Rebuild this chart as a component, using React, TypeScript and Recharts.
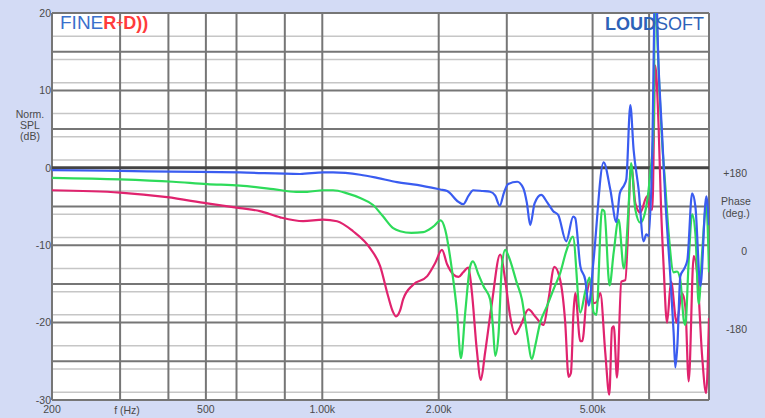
import { LineChart, Line, XAxis, YAxis, CartesianGrid } from 'recharts';

// frequency response, normalised SPL (dB) vs frequency (Hz)
const blueHz = [200, 300, 410, 613, 876, 1005, 1066, 1253, 1386, 1561, 1759, 2018, 2104, 2250, 2314, 2390, 2456, 2600, 2717, 2800, 2876, 2950, 3025, 3192, 3308, 3380, 3449, 3540, 3682, 3820, 3955, 4075, 4273, 4455, 4509, 4647, 4787, 4888, 5021, 5339, 5556, 5758, 5880, 6039, 6112, 6259, 6384, 6576, 6774, 6884, 6979, 7122, 7270, 7408, 7560, 7710, 7943, 8101, 8183, 8282, 8431, 8634, 8793, 9043, 9222, 9501, 9840, 10000];
const blueDb = [-0.3, -0.4, -0.5, -0.6, -0.8, -0.6, -0.6, -0.9, -1.3, -1.85, -2.2, -2.8, -3.0, -4.4, -4.7, -3.6, -2.9, -3.0, -3.1, -3.6, -4.9, -3.2, -2.1, -1.8, -2.6, -4.5, -7.4, -4.6, -3.5, -4.5, -5.6, -6.1, -9.5, -6.3, -6.5, -12.7, -14.5, -17.8, -12.3, 0.7, -2.8, -7.0, -3.3, -2.2, -1.5, 8.1, 2.3, -2.8, -9.5, -8.6, -8.8, 0.6, 25, 13, 4.5, -4.1, -14, -21.3, -25.8, -23, -14, -13, -11.9, -3.3, -5, -15.3, -3.7, -7.4];

const greenHz = [200, 300, 411, 504, 613, 747, 856, 914, 1005, 1066, 1160, 1253, 1353, 1437, 1525, 1590, 1700, 1824, 1935, 2024, 2079, 2164, 2229, 2283, 2342, 2413, 2452, 2535, 2612, 2717, 2762, 2800, 2855, 2914, 2972, 3030, 3186, 3283, 3382, 3484, 3553, 3660, 3809, 3962, 4123, 4273, 4447, 4647, 4787, 4911, 5030, 5111, 5288, 5361, 5533, 5667, 5838, 6022, 6196, 6285, 6449, 6643, 6884, 7050, 7190, 7255, 7351, 7560, 7710, 7863, 8101, 8267, 8431, 8600, 8687, 8862, 9043, 9222, 9406, 9598, 9840, 10000];
const greenDb = [-1.3, -1.5, -1.8, -2.1, -2.3, -2.75, -3.1, -3.1, -2.9, -2.9, -3.3, -3.9, -4.8, -6.3, -7.8, -8.2, -8.4, -8.3, -7.6, -6.8, -8.0, -13.2, -18.5, -24.6, -18.7, -12.7, -12.1, -13.8, -15.3, -17, -20.5, -24.3, -21.6, -12.7, -10.6, -11.4, -14.9, -17, -21.3, -24.7, -23, -20, -17.9, -15.7, -13.6, -10.8, -8.9, -18.7, -16, -14.2, -18.7, -19, -5.4, -5.6, -15.2, -11, -6.7, -13, -5, 0.6, -5.4, -7.1, -5, -0.7, 4.9, 26, 17, 3.6, -2.4, -8.4, -13.5, -13.4, -14.5, -19.6, -20.3, -12, -6, -8.5, -17.6, -11, -4.8, -13.5];

const redHz = [200, 300, 397, 504, 613, 690, 778, 892, 1005, 1092, 1201, 1330, 1411, 1480, 1520, 1552, 1590, 1618, 1718, 1868, 1959, 2039, 2104, 2184, 2251, 2314, 2387, 2436, 2509, 2570, 2636, 2745, 2884, 2972, 3061, 3154, 3249, 3414, 3553, 3733, 3846, 3983, 4123, 4248, 4333, 4395, 4463, 4509, 4647, 4702, 4836, 4932, 5030, 5133, 5235, 5393, 5523, 5613, 5673, 5783, 5932, 6076, 6297, 6449, 6643, 6913, 7050, 7135, 7263, 7408, 7515, 7632, 7788, 7976, 8247, 8517, 8687, 8862, 9130, 9333, 9598, 9829, 10000];
const redDb = [-2.9, -3.2, -3.8, -4.6, -5.2, -5.6, -6.4, -6.9, -6.7, -6.9, -8.2, -10.4, -12.7, -16.6, -18.5, -19.2, -18.4, -17, -15.1, -14, -12.3, -10.6, -12.5, -13.8, -14.1, -13.5, -12.9, -16, -23.5, -27.4, -23.9, -17.5, -11.2, -14.5, -19.2, -21.5, -20.5, -18.3, -19.2, -20.3, -17, -12.8, -14.5, -20, -27, -26.5, -18.7, -16.2, -22.4, -22.4, -16.2, -14.7, -17.5, -17.3, -16.2, -23.9, -29.3, -20.7, -20.5, -27.1, -14.7, -14.5, 0.4, -4.6, -5.8, -3.7, -5.4, -5.4, 13.2, 5.3, -5, -12.7, -20, -14.7, -20, -16.2, -18, -27.6, -11.4, -14, -24.3, -29.1, -19.4];

const xTicks = [200, 500, 1000, 2000, 5000];
const splTicks = [-30, -20, -10, 0, 10, 20];
const phaseTicks = [-180, 0, 180];
const freqLines = [200, 300, 400, 500, 600, 700, 800, 900, 1000, 2000, 3000, 4000, 5000, 6000, 7000, 8000, 9000, 10000];
const majorDb = [-30, -25, -20, -15, -10, -5, 5, 10, 15, 20];
const minorDb = [19, 18, 17, 16, 14, 13, 12, 11, 9, 8, 7, 6, 4, 3, 2, 1, -1, -2, -3, -4, -6, -7, -8, -9, -11, -12, -13, -14, -16, -17, -18, -19, -21, -22, -23, -24, -26, -27, -28, -29];

const toPoints = (hz: number[], db: number[]) => hz.map((f, i) => ({ hz: f, db: db[i] }));
const blue = toPoints(blueHz, blueDb);
const green = toPoints(greenHz, greenDb);
const red = toPoints(redHz, redDb);

const FONT = '"Liberation Sans", Arial, sans-serif';
const tickStyle = { fill: '#4a4a4a', fontSize: 10.5, fontFamily: FONT };

const fmtHz = (v: number) => (v >= 1000 ? (v / 1000).toFixed(2) + 'k' : String(v));

export default function App() {
  return (
    <div
      style={{
        position: 'fixed',
        left: 0,
        top: 0,
        width: 765,
        height: 418,
        background: '#d3dbf5',
        fontFamily: FONT,
      }}
    >
      <LineChart width={765} height={418} data={blue} margin={{ top: 13, right: 0, bottom: 0, left: 0 }}>
        <CartesianGrid yAxisId="spl" fill="#ffffff" fillOpacity={1} stroke="#c6c6c6" strokeWidth={1.5} vertical={false} horizontalValues={minorDb} />
        <CartesianGrid yAxisId="spl" stroke="#767676" strokeWidth={2} horizontalValues={majorDb} verticalValues={freqLines} />
        <CartesianGrid yAxisId="spl" stroke="#444444" strokeWidth={3} vertical={false} horizontalValues={[0]} />

        <XAxis
          type="number"
          dataKey="hz"
          scale="log"
          domain={[200, 10000]}
          allowDataOverflow
          ticks={xTicks}
          tickFormatter={fmtHz}
          tick={tickStyle}
          axisLine={false}
          tickLine={false}
          tickSize={5}
          tickMargin={1}
          height={18}
        />
        <YAxis
          yAxisId="spl"
          type="number"
          domain={[-30, 20]}
          allowDataOverflow
          ticks={splTicks}
          tick={tickStyle}
          axisLine={false}
          tickLine={false}
          tickSize={0}
          tickMargin={1}
          width={52}
        />
        <YAxis
          yAxisId="phase"
          orientation="right"
          type="number"
          domain={[-344, 551]}
          allowDataOverflow
          ticks={phaseTicks}
          interval={0}
          tickFormatter={(v: number) => (v > 0 ? '+' + v : String(v))}
          tick={{ ...tickStyle, textAnchor: 'end', dx: 38 }}
          axisLine={false}
          tickLine={false}
          tickSize={0}
          tickMargin={0}
          width={56}
        />

        <Line yAxisId="spl" data={red} dataKey="db" type="monotone" stroke="#e0236e" strokeWidth={2.2} dot={false} isAnimationActive={false} />
        <Line yAxisId="spl" data={green} dataKey="db" type="monotone" stroke="#2edb5a" strokeWidth={2.2} dot={false} isAnimationActive={false} />
        <Line yAxisId="spl" data={blue} dataKey="db" type="monotone" stroke="#3a5cf0" strokeWidth={2.2} dot={false} isAnimationActive={false} />
      </LineChart>

      <div style={{ position: 'absolute', left: 60, top: 13, fontSize: 19, lineHeight: '20px', whiteSpace: 'nowrap' }}>
        <span style={{ color: '#3a70cc' }}>FINE</span>
        <span style={{ color: '#ff3b3b', fontWeight: 'bold', fontSize: 18 }}>
          R<span style={{ fontSize: 12, verticalAlign: 2 }}>+</span>D))
        </span>
      </div>
      <div style={{ position: 'absolute', left: 605, top: 14, fontSize: 18, lineHeight: '20px', whiteSpace: 'nowrap', color: '#2d62b8' }}>
        <span style={{ fontWeight: 'bold' }}>LOUD</span>
        <span>SOFT</span>
      </div>

      <div style={{ position: 'absolute', left: 5, width: 50, top: 109, fontSize: 10.5, lineHeight: '11px', textAlign: 'center', color: '#4a4a4a' }}>
        Norm.<br />SPL<br />(dB)
      </div>
      <div style={{ position: 'absolute', left: 711, width: 50, top: 195, fontSize: 10.5, lineHeight: '12px', textAlign: 'center', color: '#4a4a4a' }}>
        Phase<br />(deg.)
      </div>
      <div style={{ position: 'absolute', left: 102, width: 50, top: 404, fontSize: 10.5, lineHeight: '12px', textAlign: 'center', color: '#4a4a4a' }}>
        f (Hz)
      </div>
    </div>
  );
}
